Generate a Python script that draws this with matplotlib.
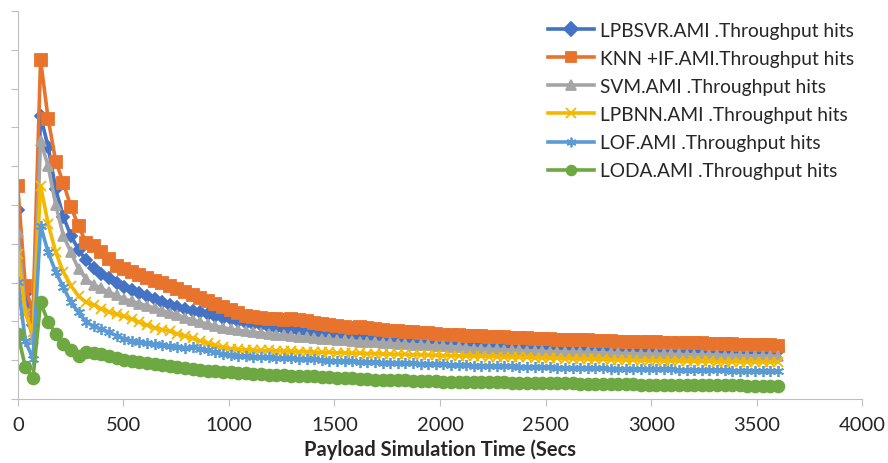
import matplotlib
matplotlib.use("Agg")
import matplotlib.pyplot as plt
import numpy as np

plt.rcParams['font.family'] = ['Lato', 'DejaVu Sans']

# sample times (s), one sample every 36 s
times = np.arange(0, 3601, 36)

labels = ['LPBSVR.AMI .Throughput hits', 'KNN +IF.AMI.Throughput hits',
          'SVM.AMI .Throughput hits', 'LPBNN.AMI .Throughput hits',
          'LOF.AMI .Throughput hits', 'LODA.AMI .Throughput hits']

lpbsvr = [4.88, 2.70, 1.90, 7.29, 6.50, 5.40, 4.70, 4.20, 3.85, 3.57,
          3.37, 3.22, 3.11, 3.00, 2.88, 2.80, 2.72, 2.65, 2.58, 2.50,
          2.42, 2.38, 2.33, 2.28, 2.24, 2.20, 2.15, 2.10, 2.05, 2.01,
          1.97, 1.93, 1.90, 1.86, 1.83, 1.80, 1.78, 1.76, 1.73, 1.70,
          1.68, 1.66, 1.64, 1.62, 1.60, 1.58, 1.56, 1.54, 1.53, 1.51,
          1.50, 1.49, 1.48, 1.47, 1.46, 1.45, 1.44, 1.43, 1.43, 1.42,
          1.42, 1.41, 1.40, 1.39, 1.38, 1.37, 1.36, 1.35, 1.34, 1.33,
          1.32, 1.32, 1.31, 1.31, 1.30, 1.30, 1.29, 1.29, 1.29, 1.28,
          1.28, 1.28, 1.27, 1.27, 1.27, 1.27, 1.26, 1.26, 1.26, 1.26,
          1.26, 1.25, 1.25, 1.25, 1.25, 1.25, 1.24, 1.24, 1.24, 1.24, 1.24]

knn_if = [5.48, 2.90, 2.20, 8.74, 7.22, 6.12, 5.57, 4.95, 4.46, 4.02,
          3.95, 3.80, 3.61, 3.44, 3.35, 3.28, 3.20, 3.12, 3.05, 2.98,
          2.90, 2.84, 2.76, 2.68, 2.60, 2.52, 2.45, 2.38, 2.30, 2.22,
          2.15, 2.12, 2.10, 2.06, 2.05, 2.04, 2.05, 2.03, 2.00, 1.97,
          1.92, 1.90, 1.87, 1.86, 1.84, 1.85, 1.84, 1.80, 1.78, 1.76,
          1.74, 1.72, 1.72, 1.70, 1.69, 1.68, 1.66, 1.65, 1.64, 1.63,
          1.62, 1.62, 1.61, 1.60, 1.59, 1.58, 1.57, 1.56, 1.55, 1.55,
          1.54, 1.53, 1.53, 1.52, 1.52, 1.51, 1.50, 1.50, 1.49, 1.48,
          1.48, 1.47, 1.47, 1.46, 1.46, 1.45, 1.45, 1.44, 1.44, 1.43,
          1.43, 1.42, 1.42, 1.41, 1.41, 1.40, 1.40, 1.39, 1.38, 1.38, 1.37]

svm = [4.30, 2.30, 1.55, 6.66, 6.00, 5.00, 4.21, 3.78, 3.35, 3.09,
       2.94, 2.85, 2.75, 2.67, 2.58, 2.52, 2.46, 2.40, 2.34, 2.28,
       2.22, 2.16, 2.10, 2.04, 1.98, 1.93, 1.88, 1.84, 1.80, 1.77,
       1.75, 1.72, 1.70, 1.68, 1.66, 1.64, 1.62, 1.60, 1.59, 1.57,
       1.55, 1.54, 1.52, 1.51, 1.50, 1.48, 1.47, 1.46, 1.45, 1.43,
       1.42, 1.41, 1.40, 1.39, 1.38, 1.37, 1.36, 1.35, 1.34, 1.32,
       1.30, 1.29, 1.28, 1.28, 1.27, 1.26, 1.25, 1.24, 1.24, 1.23,
       1.22, 1.22, 1.21, 1.21, 1.20, 1.20, 1.19, 1.19, 1.18, 1.18,
       1.17, 1.17, 1.16, 1.16, 1.16, 1.15, 1.15, 1.15, 1.14, 1.14,
       1.13, 1.13, 1.13, 1.12, 1.12, 1.12, 1.11, 1.11, 1.11, 1.10, 1.10]

lpbnn = [3.74, 2.20, 1.72, 5.50, 4.51, 3.78, 3.27, 2.92, 2.65, 2.49,
         2.43, 2.32, 2.25, 2.18, 2.13, 2.06, 1.98, 1.90, 1.84, 1.79,
         1.75, 1.68, 1.62, 1.56, 1.50, 1.44, 1.38, 1.33, 1.30, 1.28,
         1.27, 1.26, 1.25, 1.25, 1.24, 1.24, 1.23, 1.22, 1.22, 1.21,
         1.20, 1.20, 1.19, 1.19, 1.18, 1.18, 1.17, 1.17, 1.16, 1.16,
         1.15, 1.15, 1.14, 1.14, 1.13, 1.13, 1.12, 1.12, 1.11, 1.11,
         1.10, 1.10, 1.09, 1.09, 1.08, 1.08, 1.07, 1.07, 1.06, 1.06,
         1.05, 1.05, 1.04, 1.04, 1.03, 1.03, 1.02, 1.02, 1.01, 1.01,
         1.00, 1.00, 0.99, 0.99, 0.99, 0.98, 0.98, 0.98, 0.97, 0.97,
         0.97, 0.97, 0.96, 0.96, 0.96, 0.96, 0.95, 0.95, 0.95, 0.95, 0.95]

lof = [3.01, 1.50, 1.03, 4.47, 3.78, 3.27, 2.88, 2.49, 2.23, 1.98,
       1.87, 1.80, 1.72, 1.63, 1.55, 1.50, 1.46, 1.43, 1.41, 1.39,
       1.37, 1.34, 1.32, 1.33, 1.30, 1.25, 1.20, 1.17, 1.14, 1.12,
       1.10, 1.09, 1.08, 1.07, 1.06, 1.05, 1.05, 1.04, 1.03, 1.02,
       1.00, 0.99, 0.98, 0.98, 0.97, 0.96, 0.96, 0.95, 0.94, 0.94,
       0.93, 0.92, 0.92, 0.91, 0.90, 0.89, 0.89, 0.88, 0.87, 0.87,
       0.86, 0.86, 0.85, 0.85, 0.84, 0.84, 0.83, 0.83, 0.82, 0.82,
       0.82, 0.81, 0.81, 0.80, 0.80, 0.80, 0.79, 0.79, 0.78, 0.78,
       0.78, 0.77, 0.77, 0.77, 0.76, 0.76, 0.76, 0.75, 0.75, 0.75,
       0.75, 0.74, 0.74, 0.74, 0.73, 0.73, 0.73, 0.73, 0.72, 0.72, 0.72]

loda = [1.68, 0.82, 0.53, 2.49, 1.99, 1.68, 1.42, 1.25, 1.12, 1.20,
        1.19, 1.16, 1.12, 1.05, 1.01, 0.98, 0.95, 0.92, 0.90, 0.88,
        0.86, 0.83, 0.80, 0.77, 0.75, 0.73, 0.71, 0.69, 0.70, 0.68,
        0.66, 0.65, 0.64, 0.63, 0.62, 0.61, 0.60, 0.59, 0.58, 0.58,
        0.57, 0.56, 0.55, 0.54, 0.53, 0.52, 0.51, 0.50, 0.49, 0.49,
        0.48, 0.48, 0.47, 0.47, 0.46, 0.46, 0.45, 0.45, 0.45, 0.44,
        0.44, 0.44, 0.43, 0.43, 0.43, 0.42, 0.42, 0.42, 0.41, 0.41,
        0.40, 0.40, 0.40, 0.40, 0.39, 0.39, 0.39, 0.39, 0.38, 0.38,
        0.38, 0.38, 0.37, 0.37, 0.37, 0.37, 0.36, 0.36, 0.36, 0.36,
        0.36, 0.35, 0.35, 0.35, 0.35, 0.35, 0.34, 0.34, 0.34, 0.34, 0.34]

series = [lpbsvr, knn_if, svm, lpbnn, lof, loda]
colors = ['#4472C4', '#E8732C', '#A5A5A5', '#F5B800', '#5B9BD5', '#6DA843']
markers = ['D', 's', '^', 'x', (6, 2, 0), 'o']
msizes = [6.5, 8, 7.5, 7, 8, 8.5]

fig = plt.figure(figsize=(8.88, 4.64), dpi=100)
ax = fig.add_axes([0.020, 0.138, 0.951, 0.836])

for ys, lab, c, m, ms in zip(series, labels, colors, markers, msizes):
    ax.plot(times, ys, color=c, lw=2.6, marker=m, ms=ms, mew=1.3,
            mfc=c, mec=c, label=lab)

ax.set_xlim(0, 4000)
ax.set_ylim(0, 10)
ax.set_xticks(np.arange(0, 4001, 500))
ax.set_yticks(np.arange(0, 11, 1))
ax.set_yticklabels([])
ax.tick_params(axis='x', labelsize=14.5, length=5, color='#bfbfbf', pad=7,
               labelcolor='#262626')
ax.tick_params(axis='y', length=5, color='#bfbfbf')
for s in ['top', 'right']:
    ax.spines[s].set_visible(False)
for s in ['left', 'bottom']:
    ax.spines[s].set_color('#bfbfbf')
ax.set_xlabel('Payload Simulation Time (Secs', fontsize=14.5, fontweight='bold',
              labelpad=4, color='#262626')

leg = ax.legend(loc='upper left', bbox_to_anchor=(0.598, 0.988), bbox_transform=fig.transFigure,
                frameon=False, fontsize=13.8, handlelength=2.4, labelspacing=0.58,
                handletextpad=0.3)
for t in leg.get_texts():
    t.set_color('#262626')
for h in leg.legend_handles:
    h.set_markersize(7)

fig.savefig('out.png', dpi=100)
